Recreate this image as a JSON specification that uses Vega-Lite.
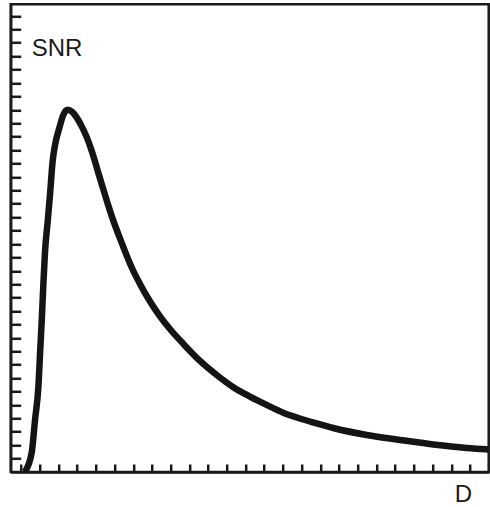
{
  "$schema": "https://vega.github.io/schema/vega-lite/v6.json",
  "width": 478,
  "height": 467.7,
  "autosize": {"type": "none"},
  "padding": {"left": 10.7, "top": 4.3, "right": 1.3, "bottom": 35},
  "background": "white",
  "config": {
    "view": {"stroke": "#1a1a1a", "strokeWidth": 2.5},
    "axis": {"grid": false, "labels": false, "domainColor": "#1a1a1a", "domainWidth": 2.5, "tickColor": "#1a1a1a", "tickWidth": 2.5, "titleFont": "Liberation Sans", "titleFontWeight": "normal", "titleFontSize": 24, "titleColor": "#1a1a1a"}
  },
  "data": {"values": [
    {"D": 0.2, "SNR": 0.0},
    {"D": 0.57, "SNR": 1.42},
    {"D": 0.75, "SNR": 3.88},
    {"D": 0.93, "SNR": 6.36},
    {"D": 1.02, "SNR": 8.87},
    {"D": 1.11, "SNR": 11.33},
    {"D": 1.19, "SNR": 13.82},
    {"D": 1.28, "SNR": 16.33},
    {"D": 1.43, "SNR": 18.72},
    {"D": 1.55, "SNR": 20.66},
    {"D": 1.69, "SNR": 23.14},
    {"D": 1.82, "SNR": 24.38},
    {"D": 2.05, "SNR": 25.65},
    {"D": 2.26, "SNR": 26.62},
    {"D": 2.49, "SNR": 27.0},
    {"D": 2.73, "SNR": 26.85},
    {"D": 2.99, "SNR": 26.4},
    {"D": 3.26, "SNR": 25.73},
    {"D": 3.53, "SNR": 24.91},
    {"D": 3.8, "SNR": 23.86},
    {"D": 4.12, "SNR": 22.37},
    {"D": 4.49, "SNR": 20.66},
    {"D": 4.86, "SNR": 19.04},
    {"D": 5.45, "SNR": 16.85},
    {"D": 5.93, "SNR": 15.21},
    {"D": 6.36, "SNR": 14.02},
    {"D": 6.9, "SNR": 12.71},
    {"D": 7.43, "SNR": 11.6},
    {"D": 7.96, "SNR": 10.66},
    {"D": 8.68, "SNR": 9.55},
    {"D": 9.57, "SNR": 8.28},
    {"D": 10.46, "SNR": 7.23},
    {"D": 11.35, "SNR": 6.32},
    {"D": 12.24, "SNR": 5.62},
    {"D": 13.13, "SNR": 5.0},
    {"D": 14.02, "SNR": 4.42},
    {"D": 14.91, "SNR": 3.99},
    {"D": 15.8, "SNR": 3.63},
    {"D": 16.69, "SNR": 3.28},
    {"D": 18.48, "SNR": 2.76},
    {"D": 20.26, "SNR": 2.39},
    {"D": 22.04, "SNR": 2.05},
    {"D": 23.82, "SNR": 1.79},
    {"D": 25.0, "SNR": 1.68}
  ]},
  "mark": {"type": "line", "color": "#141414", "strokeWidth": 6.5, "interpolate": "monotone", "clip": true, "strokeCap": "butt"},
  "encoding": {
    "x": {"field": "D", "type": "quantitative", "scale": {"domain": [-0.55, 25], "nice": false, "zero": false},
      "axis": {"values": [0,1,2,3,4,5,6,7,8,9,10,11,12,13,14,15,16,17,18,19,20,21,22,23,24], "tickSize": -8, "title": "D", "titleX": 452.3, "titleY": 29.7, "titleAlign": "center", "titleBaseline": "alphabetic", "titleAnchor": null}},
    "y": {"field": "SNR", "type": "quantitative", "scale": {"domain": [0, 34.87], "nice": false, "zero": false},
      "axis": {"values": [1,2,3,4,5,6,7,8,9,10,11,12,13,14,15,16,17,18,19,20,21,22,23,24,25,26,27,28,29,30,31,32,33,34], "tickSize": -10, "title": "SNR", "titleAngle": 0, "titleX": 20.5, "titleY": 50.7, "titleAlign": "left", "titleBaseline": "alphabetic", "titleAnchor": null}}
  }
}
